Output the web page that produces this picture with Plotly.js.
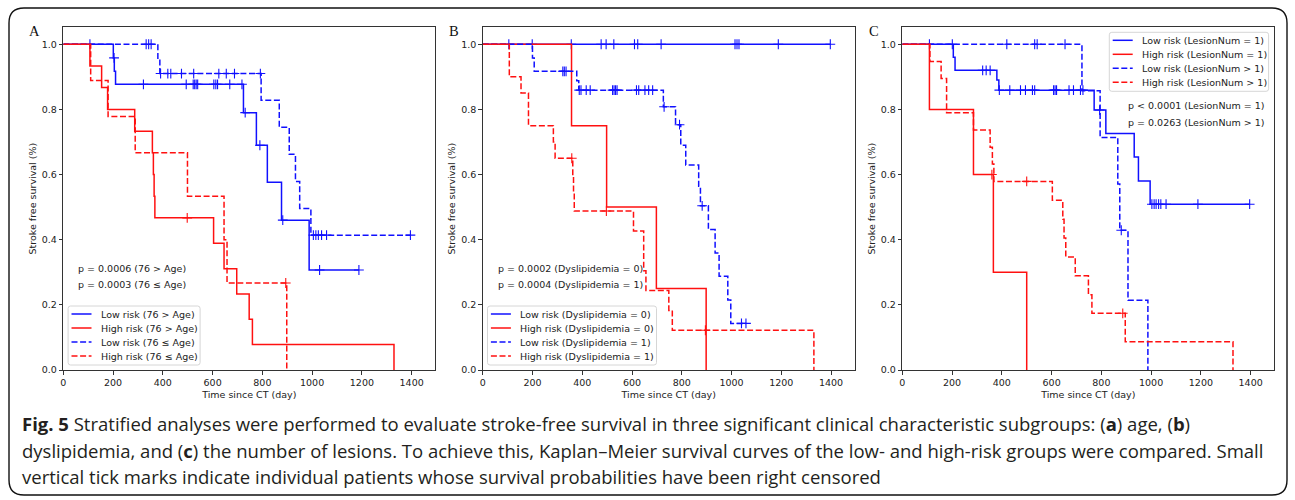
<!DOCTYPE html>
<html><head><meta charset="utf-8">
<script src="https://cdn.plot.ly/plotly-3.0.1.min.js"></script>
<style>html,body{margin:0;padding:0;background:#fff}#chart{width:1295px;height:500px}</style>
</head><body><div id="chart"></div>
<script>
// ---------------- DATA ----------------
const xTickVals = [0, 200, 400, 600, 800, 1000, 1200, 1400];
const yTickVals = [0, 0.2, 0.4, 0.6, 0.8, 1.0];
const panelLetters = ['A', 'B', 'C'];
const xAxisTitle = 'Time since CT (day)';
const yAxisTitle = 'Stroke free survival (%)';

// Panel A : age
const aNames = ['Low risk (76 > Age)', 'High risk (76 > Age)', 'Low risk (76 ≤ Age)', 'High risk (76 ≤ Age)'];
const aPvals = ['p = 0.0006 (76 > Age)', 'p = 0.0003 (76 ≤ Age)'];
const aLow1Time = [201, 205, 210, 724, 776, 820, 877, 988];
const aLow1Surv = [0.958, 0.917, 0.877, 0.79, 0.69, 0.576, 0.46, 0.307];
const aLow1Cens = [107, 204, 322, 494, 522, 528, 534, 540, 605, 613, 620, 669, 718, 731, 790, 882, 1030, 1188];
const aHigh1Time = [107, 154, 178, 287, 358, 362, 365, 368, 604, 646, 697, 747, 760, 1329];
const aHigh1Surv = [0.933, 0.867, 0.8, 0.733, 0.667, 0.6, 0.533, 0.467, 0.389, 0.311, 0.233, 0.156, 0.078, 0];
const aHigh1Cens = [498];
const aLow2Time = [380, 388, 795, 868, 908, 933, 950, 995];
const aLow2Surv = [0.955, 0.91, 0.828, 0.745, 0.662, 0.579, 0.496, 0.414];
const aLow2Cens = [333, 343, 353, 391, 420, 432, 475, 524, 625, 655, 688, 792, 1005, 1015, 1025, 1038, 1058, 1395];
const aHigh2Time = [110, 180, 289, 499, 646, 658, 898];
const aHigh2Surv = [0.889, 0.778, 0.667, 0.533, 0.4, 0.267, 0];
const aHigh2Cens = [894];

// Panel B : dyslipidemia
const bNames = ['Low risk (Dyslipidemia = 0)', 'High risk (Dyslipidemia = 0)', 'Low risk (Dyslipidemia = 1)', 'High risk (Dyslipidemia = 1)'];
const bPvals = ['p = 0.0002 (Dyslipidemia = 0)', 'p = 0.0004 (Dyslipidemia = 1)'];
const bLow1Time = [];
const bLow1Surv = [];
const bLow1Cens = [105, 199, 356, 476, 496, 527, 610, 623, 717, 1014, 1022, 1030, 1188, 1397];
const bHigh1Time = [357, 498, 698, 898];
const bHigh1Surv = [0.75, 0.5, 0.25, 0];
const bHigh1Cens = [];
const bLow2Time = [200, 207, 378, 386, 726, 775, 796, 816, 868, 875, 907, 934, 950, 985, 997];
const bLow2Surv = [0.958, 0.917, 0.888, 0.859, 0.808, 0.753, 0.69, 0.629, 0.564, 0.504, 0.431, 0.359, 0.288, 0.215, 0.143];
const bLow2Cens = [322, 328, 335, 388, 395, 416, 432, 522, 528, 534, 540, 618, 627, 652, 667, 683, 729, 791, 882, 1040, 1058];
const bHigh2Time = [107, 154, 184, 284, 291, 362, 365, 368, 606, 647, 656, 748, 762, 1331];
const bHigh2Surv = [0.9, 0.85, 0.75, 0.7, 0.65, 0.596, 0.542, 0.488, 0.427, 0.305, 0.244, 0.183, 0.122, 0];
const bHigh2Cens = [358, 497, 895];

// Panel C : number of lesions
const cNames = ['Low risk (LesionNum = 1)', 'High risk (LesionNum = 1)', 'Low risk (LesionNum > 1)', 'High risk (LesionNum > 1)'];
const cPvals = ['p < 0.0001 (LesionNum = 1)', 'p = 0.0263 (LesionNum > 1)'];
const cLow1Time = [205, 212, 380, 388, 771, 818, 932, 949, 996];
const cLow1Surv = [0.96, 0.92, 0.89, 0.859, 0.798, 0.726, 0.654, 0.58, 0.509];
const cLow1Cens = [109, 201, 323, 337, 353, 390, 432, 475, 495, 523, 532, 608, 614, 620, 670, 688, 716, 726, 793, 1003, 1012, 1020, 1030, 1039, 1060, 1188, 1396];
const cHigh1Time = [109, 286, 366, 500];
const cHigh1Surv = [0.8, 0.6, 0.3, 0];
const cHigh1Cens = [360];
const cLow2Time = [722, 795, 866, 874, 907, 987];
const cLow2Surv = [0.857, 0.714, 0.571, 0.429, 0.214, 0];
const cLow2Cens = [420, 532, 542, 654, 880];
const cHigh2Time = [111, 156, 178, 286, 353, 362, 368, 603, 645, 650, 657, 695, 748, 762, 896, 1329];
const cHigh2Surv = [0.947, 0.895, 0.79, 0.737, 0.684, 0.632, 0.579, 0.521, 0.463, 0.405, 0.347, 0.289, 0.231, 0.174, 0.087, 0];
const cHigh2Cens = [500, 886];

const captionLines = [
  '<b>Fig. 5</b> Stratified analyses were performed to evaluate stroke-free survival in three significant clinical characteristic subgroups: (<b>a</b>) age, (<b>b</b>)',
  'dyslipidemia, and (<b>c</b>) the number of lesions. To achieve this, Kaplan–Meier survival curves of the low- and high-risk groups were compared. Small',
  'vertical tick marks indicate individual patients whose survival probabilities have been right censored'
];

// ---------------- BUILD ----------------
const panels = [
  {names: aNames, pvals: aPvals, series: [[aLow1Time, aLow1Surv, aLow1Cens], [aHigh1Time, aHigh1Surv, aHigh1Cens], [aLow2Time, aLow2Surv, aLow2Cens], [aHigh2Time, aHigh2Surv, aHigh2Cens]]},
  {names: bNames, pvals: bPvals, series: [[bLow1Time, bLow1Surv, bLow1Cens], [bHigh1Time, bHigh1Surv, bHigh1Cens], [bLow2Time, bLow2Surv, bLow2Cens], [bHigh2Time, bHigh2Surv, bHigh2Cens]]},
  {names: cNames, pvals: cPvals, series: [[cLow1Time, cLow1Surv, cLow1Cens], [cHigh1Time, cHigh1Surv, cHigh1Cens], [cLow2Time, cLow2Surv, cLow2Cens], [cHigh2Time, cHigh2Surv, cHigh2Cens]]}
];

const W = 1295, H = 500;
const BLUE = '#1010ff', RED = '#ff1010';
const seriesStyle = [
  {color: BLUE, dash: 'solid'}, {color: RED, dash: 'solid'},
  {color: BLUE, dash: '6px,2.6px'}, {color: RED, dash: '6px,2.6px'}
];
const FONT = 'DejaVu Sans, sans-serif';
const plotLeftPx = [63.3, 482.7, 902.3];
const plotWidthPx = 372;
const plotTopPx = 27.3, plotBottomPx = 370;
const px2x = p => p / W;
const px2y = p => 1 - p / H;

function survAt(t, s, time) {
  let v = 1;
  for (let i = 0; i < t.length; i++) if (t[i] <= time) v = s[i];
  return v;
}
function kmLine(t, s, c) {
  const xs = [0], ys = [1];
  for (let i = 0; i < t.length; i++) { xs.push(t[i]); ys.push(s[i]); }
  const lastC = c.length ? Math.max(...c) : 0;
  if (ys[ys.length - 1] > 0 && lastC > xs[xs.length - 1]) { xs.push(lastC); ys.push(ys[ys.length - 1]); }
  return {xs, ys};
}

const traces = [];
const shapes = [];
const annotations = [];
const layout = {
  width: W, height: H,
  margin: {l: 0, r: 0, t: 0, b: 0},
  paper_bgcolor: '#fff', plot_bgcolor: '#fff',
  showlegend: false,
  font: {family: FONT, size: 9.5, color: '#222'}
};

panels.forEach((p, k) => {
  const sfx = k === 0 ? '' : String(k + 1);
  const xa = 'x' + sfx, ya = 'y' + sfx;
  const left = plotLeftPx[k];
  layout['xaxis' + sfx] = {
    domain: [px2x(left), px2x(left + plotWidthPx)], anchor: ya,
    range: [0, 1495], tickvals: xTickVals, tickformat: 'd',
    ticks: 'outside', ticklen: 3.5, tickwidth: 1, tickcolor: '#333',
    showline: true, mirror: true, linecolor: '#333', linewidth: 1,
    showgrid: false, zeroline: false,
    tickfont: {family: FONT, size: 9.5, color: '#222'},
    title: {text: xAxisTitle, font: {family: FONT, size: 9.5, color: '#222'}, standoff: 4}
  };
  layout['yaxis' + sfx] = {
    domain: [px2y(plotBottomPx), px2y(plotTopPx)], anchor: xa,
    range: [0, 1.052], tickvals: yTickVals, tickformat: '.1f',
    ticks: 'outside', ticklen: 3.5, tickwidth: 1, tickcolor: '#333',
    showline: true, mirror: true, linecolor: '#333', linewidth: 1,
    showgrid: false, zeroline: false,
    tickfont: {family: FONT, size: 9.5, color: '#222'},
    title: {text: yAxisTitle, font: {family: FONT, size: 9.5, color: '#222'}, standoff: 3}
  };

  p.series.forEach((ser, j) => {
    const [t, s, c] = ser;
    const st = seriesStyle[j];
    const L = kmLine(t, s, c);
    traces.push({
      x: L.xs, y: L.ys, xaxis: xa, yaxis: ya, mode: 'lines', name: p.names[j],
      line: {shape: 'hv', color: st.color, width: 1.5, dash: st.dash}, hoverinfo: 'skip'
    });
    if (c.length) {
      traces.push({
        x: c, y: c.map(v => survAt(t, s, v)), xaxis: xa, yaxis: ya, mode: 'markers', name: p.names[j] + ' censored',
        marker: {symbol: 'cross-thin', size: 7, color: st.color, line: {width: 1.1, color: st.color}}, hoverinfo: 'skip'
      });
    }
  });

  // panel letter
  annotations.push({xref: 'paper', yref: 'paper', x: px2x(left - 28.5), y: px2y(31), xanchor: 'center', yanchor: 'middle',
    text: panelLetters[k], showarrow: false, font: {family: 'Liberation Serif, serif', size: 14.5, color: '#111'}});

  // legend (matplotlib style box)
  let bx0, by0, bw, bh = 59;
  if (k < 2) { bx0 = left + 4.8; by0 = 306; bw = (k === 0 ? 132 : 169); }
  else { bw = 159.3; bx0 = left + plotWidthPx - 5.7 - bw; by0 = 32.3; }
  const r = 2.5;
  const X = v => px2x(v), Y = v => px2y(v);
  const x1 = bx0 + bw, y1 = by0 + bh;
  shapes.push({type: 'path', xref: 'paper', yref: 'paper',
    path: `M ${X(bx0 + r)},${Y(by0)} L ${X(x1 - r)},${Y(by0)} Q ${X(x1)},${Y(by0)} ${X(x1)},${Y(by0 + r)} L ${X(x1)},${Y(y1 - r)} Q ${X(x1)},${Y(y1)} ${X(x1 - r)},${Y(y1)} L ${X(bx0 + r)},${Y(y1)} Q ${X(bx0)},${Y(y1)} ${X(bx0)},${Y(y1 - r)} L ${X(bx0)},${Y(by0 + r)} Q ${X(bx0)},${Y(by0)} ${X(bx0 + r)},${Y(by0)} Z`,
    fillcolor: 'rgba(255,255,255,0.8)', line: {color: '#d6d6d6', width: 1}, layer: 'above'});
  p.names.forEach((nm, j) => {
    const rowY = by0 + 8 + j * 14;
    const lx0 = bx0 + 3.4;
    shapes.push({type: 'line', xref: 'paper', yref: 'paper', x0: X(lx0), x1: X(lx0 + 20), y0: Y(rowY), y1: Y(rowY),
      line: {color: seriesStyle[j].color, width: 1.5, dash: seriesStyle[j].dash}, layer: 'above'});
    annotations.push({xref: 'paper', yref: 'paper', x: X(lx0 + 27.3), y: Y(rowY), xanchor: 'left', yanchor: 'middle',
      text: nm, showarrow: false, font: {family: FONT, size: 9.5, color: '#222'}});
  });

  // p-values
  let px0, py0;
  if (k < 2) { px0 = left + 12.8; py0 = 268.3; } else { px0 = left + 223.4; py0 = 106; }
  p.pvals.forEach((pv, j) => {
    annotations.push({xref: 'paper', yref: 'paper', x: X(px0), y: Y(py0 + j * 16.5), xanchor: 'left', yanchor: 'middle',
      text: pv, showarrow: false, font: {family: FONT, size: 9.5, color: '#222'}});
  });
});

// caption
const capY = [423, 450, 476];
captionLines.forEach((ln, i) => {
  annotations.push({xref: 'paper', yref: 'paper', x: px2x(20), y: px2y(capY[i]), xanchor: 'left', yanchor: 'middle',
    text: ln, showarrow: false, font: {family: 'Open Sans, sans-serif', size: 18.5, color: '#231f20'}});
});

// outer rounded frame
(function () {
  const x0 = 9, y0 = 8, x1 = 1287, y1 = 495, R = 15;
  const X = px2x, Y = px2y;
  shapes.push({type: 'path', xref: 'paper', yref: 'paper',
    path: `M ${X(x0 + R)},${Y(y0)} L ${X(x1 - R)},${Y(y0)} Q ${X(x1)},${Y(y0)} ${X(x1)},${Y(y0 + R)} L ${X(x1)},${Y(y1 - R)} Q ${X(x1)},${Y(y1)} ${X(x1 - R)},${Y(y1)} L ${X(x0 + R)},${Y(y1)} Q ${X(x0)},${Y(y1)} ${X(x0)},${Y(y1 - R)} L ${X(x0)},${Y(y0 + R)} Q ${X(x0)},${Y(y0)} ${X(x0 + R)},${Y(y0)} Z`,
    line: {color: '#111', width: 1.4}, fillcolor: 'rgba(0,0,0,0)', layer: 'below'});
})();

layout.shapes = shapes;
layout.annotations = annotations;
Plotly.newPlot('chart', traces, layout, {staticPlot: true, displayModeBar: false});
</script>
</body></html>
